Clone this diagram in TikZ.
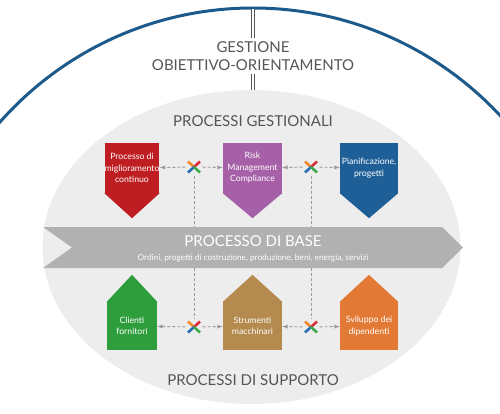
\documentclass[tikz,border=0pt]{standalone}
\usepackage{fontspec}
\setmainfont{Lato}
\usepackage{tikz}
\usetikzlibrary{calc}

\definecolor{arcblue}{HTML}{1D5A8C}
\definecolor{ellgray}{HTML}{EDEDED}
\definecolor{arrowgray}{HTML}{B1B1B1}
\definecolor{headgray}{HTML}{555555}
\definecolor{linkgray}{HTML}{9A9A9A}
\definecolor{boxred}{HTML}{BE1E22}
\definecolor{boxpurple}{HTML}{A660A8}
\definecolor{boxblue}{HTML}{1F5F98}
\definecolor{boxgreen}{HTML}{2E9E3C}
\definecolor{boxbrown}{HTML}{B48A4E}
\definecolor{boxorange}{HTML}{E27A36}
\definecolor{xorange}{HTML}{F08A2C}
\definecolor{xred}{HTML}{D9303A}
\definecolor{xblue}{HTML}{2A6FB5}
\definecolor{xgreen}{HTML}{3AAA4A}

\tikzset{
    heading/.style={text=headgray, font=\fontsize{15}{18}\selectfont, align=center},
    procbox/.style={text=white, font=\fontsize{8.7}{11.5}\selectfont, align=center,
        minimum height=50pt, inner sep=0pt},
    link/.style={linkgray, dash pattern=on 3pt off 2pt, line width=0.9pt},
    xmark/.style={circle, minimum size=17pt, inner sep=0pt},
    >=latex
}

\begin{document}
\begin{tikzpicture}[x=1pt,y=-1pt]
        \useasboundingbox (0,0) rectangle (500,413);

        % Draw the outer arc
        \begin{scope}
            \clip (0,0) rectangle (500,413);
            \draw[arcblue, line width=3pt] (253,345.7) circle[radius=337.7pt];
        \end{scope}

        % Draw the gray ellipse
        \fill[ellgray] (251.5,247) ellipse[x radius=209pt, y radius=157pt];

        % Headings
        \coordinate (top) at (253,9);
        \coordinate (elltop) at (253,90);
        \node[heading] (goal) at (253,56) {GESTIONE\\OBIETTIVO-ORIENTAMENTO};
        \draw[headgray, line width=0.7pt, double, double distance=1.8pt] (top) -- (goal.north);
        \draw[headgray, line width=0.7pt, double, double distance=1.8pt] (goal.south) -- (elltop);
        \node[heading] (gest) at (253,121) {PROCESSI GESTIONALI};
        \node[heading] (supp) at (253,380) {PROCESSI DI SUPPORTO};

        % Draw the base process arrow
        \fill[arrowgray] (43,227) -- (442,227) -- (463,247.5) -- (442,268) -- (43,268) -- (72,247.5) -- cycle;
        \node[minimum width=399pt, minimum height=41pt, inner sep=0pt] (base) at (242.5,247.5) {};
        \node[text=white, font=\fontsize{15}{18}\selectfont] (basetitle) at (253,241) {PROCESSO DI BASE};
        \node[text=white, font=\fontsize{8.3}{10}\selectfont] (basesub) at (253,258)
            {Ordini, progetti di costruzione, produzione, beni, energia, servizi};

        % Management processes (pointing down)
        \node[procbox, fill=boxred, minimum width=52pt] (red) at (132,168) {Processo di\\miglioramento\\continuo};
        \node[procbox, fill=boxpurple, minimum width=59pt] (purple) at (252.5,168) {Risk\\Management\\Compliance};
        \node[procbox, fill=boxblue, minimum width=58pt] (blue) at (369,168) {Pianificazione,\\progetti};
        \foreach \b/\c in {red/boxred, purple/boxpurple, blue/boxblue} {
            \fill[\c] (\b.south west) -- (\b.south east) -- ($(\b.south)+(0,25)$) -- cycle;
        }

        % Support processes (pointing up)
        \node[procbox, fill=boxgreen, minimum width=50pt, minimum height=48pt] (green) at (132,326) {Clienti\\fornitori};
        \node[procbox, fill=boxbrown, minimum width=59pt, minimum height=48pt] (brown) at (252.5,326) {Strumenti\\macchinari};
        \node[procbox, fill=boxorange, minimum width=58pt, minimum height=48pt] (orange) at (369,326) {Sviluppo dei\\dipendenti};
        \foreach \b/\c in {green/boxgreen, brown/boxbrown, orange/boxorange} {
            \fill[\c] (\b.north west) -- (\b.north east) -- ($(\b.north)+(0,-27)$) -- cycle;
        }

        % Connector marks
        \foreach \n/\x/\y in {xa/194/167, xb/311/167, xc/194/327, xd/311/327} {
            \node[xmark] (\n) at (\x,\y) {};
            \draw[xorange, line width=2.6pt] (\n.center) -- ++(-6,-5.5);
            \draw[xred, line width=2.6pt] (\n.center) -- ++(6,-5.5);
            \draw[xblue, line width=2.6pt] (\n.center) -- ++(-6,5.5);
            \draw[xgreen, line width=2.6pt] (\n.center) -- ++(6,5.5);
        }

        % Dashed connectors
        \draw[link,->] (xa) -- (red);
        \draw[link,->] (xa) -- (purple);
        \draw[link,->] (xb) -- (purple);
        \draw[link,->] (xb) -- (blue);
        \draw[link,->] (xc) -- (green);
        \draw[link,->] (xc) -- (brown);
        \draw[link,->] (xd) -- (brown);
        \draw[link,->] (xd) -- (orange);
        \draw[link] (xa) -- (xa |- base.north);
        \draw[link] (xb) -- (xb |- base.north);
        \draw[link] (xa |- base.south) -- (xc);
        \draw[link] (xb |- base.south) -- (xd);
    \end{tikzpicture}
\end{document}
